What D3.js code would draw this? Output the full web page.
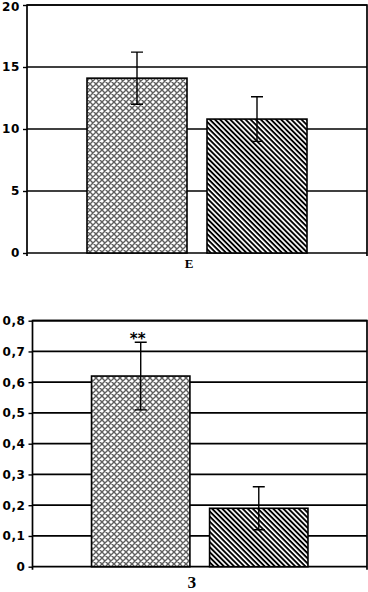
<!DOCTYPE html>
<html>
<head>
<meta charset="utf-8">
<script src="https://cdn.jsdelivr.net/npm/d3@7"></script>
<style>
  body { margin: 0; background: #fff; }
  .tick text { font-family: "DejaVu Sans", Verdana, sans-serif; font-weight: bold; font-size: 12px; letter-spacing: 0.6px; fill: #000; }
</style>
</head>
<body>
<div id="chart"></div>
<script>
// data
const groups = ['control', 'test'];
const topLabel = 'Е';
const topMeans = [14.1, 10.8];
const topErrors = [2.1, 1.8];
const topTicks = [0, 5, 10, 15, 20];
const bottomLabel = 'З';
const bottomMeans = [0.62, 0.19];
const bottomErrors = [0.11, 0.07];
const bottomTicks = [0, 0.1, 0.2, 0.3, 0.4, 0.5, 0.6, 0.7, 0.8];
const bottomStars = ['**', ''];

const width = 368, height = 592;
const svg = d3.select('#chart').append('svg')
    .attr('width', width).attr('height', height);

// fill patterns
const defs = svg.append('defs');
const cross = defs.append('pattern')
    .attr('id', 'cross').attr('patternUnits', 'userSpaceOnUse')
    .attr('width', 6).attr('height', 6);
cross.append('rect').attr('width', 6).attr('height', 6).attr('fill', '#fff');
cross.append('path').attr('d', 'M0,0L6,6M6,0L0,6M-1,5L1,7M5,-1L7,1M-1,1L1,-1M5,7L7,5')
    .attr('stroke', '#5e5e5e').attr('stroke-width', 1.4);
const stripe = defs.append('pattern')
    .attr('id', 'stripe').attr('patternUnits', 'userSpaceOnUse')
    .attr('width', 4).attr('height', 3.6)
    .attr('patternTransform', 'rotate(45)');
stripe.append('rect').attr('width', 4).attr('height', 3.6).attr('fill', '#fff');
stripe.append('rect').attr('width', 4).attr('height', 1.9).attr('fill', '#000');
const fills = ['url(#cross)', 'url(#stripe)'];

function fmtComma(d) {
    return d === 0 ? '0' : d3.format('.1f')(d).replace('.', ',');
}

function drawPanel(opt) {
    const {left, right, top, bottom, ticks, means, errors, label, stars, fmt, labelY, labelSize, labelWeight} = opt;
    const g = svg.append('g');
    const y = d3.scaleLinear().domain([0, d3.max(ticks)]).range([bottom, top]);
    const x = d3.scaleBand().domain(groups).range([left, right])
        .paddingInner(1 / 6).paddingOuter(0.5);

    // gridlines
    g.selectAll('.grid').data(ticks).join('line')
        .attr('x1', left).attr('x2', right)
        .attr('y1', d => y(d)).attr('y2', d => y(d))
        .attr('stroke', '#000').attr('stroke-width', 1.7);

    // frame
    g.append('path')
        .attr('d', `M${left},${bottom}V${top}H${right}V${bottom + 3}M${left},${bottom}v3`)
        .attr('fill', 'none').attr('stroke', '#000').attr('stroke-width', 1.7);

    // y axis
    const yAxis = d3.axisLeft(y).tickValues(ticks).tickFormat(fmt)
        .tickSizeInner(4).tickSizeOuter(0).tickPadding(3);
    const ya = g.append('g').attr('transform', `translate(${left},0)`).call(yAxis);
    ya.select('.domain').remove();
    ya.selectAll('.tick line').attr('stroke', '#000').attr('stroke-width', 1.4);
    // keep the top label inside the page
    ya.selectAll('.tick text').filter(d => y(d) < 8).attr('dy', '0.45em');

    // bars
    g.selectAll('.bar').data(groups).join('rect')
        .attr('x', d => x(d)).attr('width', x.bandwidth())
        .attr('y', (d, i) => y(means[i]))
        .attr('height', (d, i) => y(0) - y(means[i]))
        .attr('fill', (d, i) => fills[i])
        .attr('stroke', '#000').attr('stroke-width', 1.6);

    // error bars
    const cx = d => x(d) + x.bandwidth() / 2;
    g.selectAll('.err').data(groups).join('path')
        .attr('d', (d, i) => {
            const c = cx(d), y0 = y(means[i] - errors[i]), y1 = y(means[i] + errors[i]);
            return `M${c - 6},${y1}H${c + 6}M${c},${y1}V${y0}M${c - 6},${y0}H${c + 6}`;
        })
        .attr('fill', 'none').attr('stroke', '#000').attr('stroke-width', 1.4);

    if (stars) {
        g.selectAll('.star').data(groups).join('text')
            .attr('x', d => cx(d) - 3)
            .attr('y', (d, i) => y(means[i] + errors[i]) + 2)
            .attr('text-anchor', 'middle')
            .style('font-family', '"DejaVu Sans", sans-serif')
            .style('font-weight', 'bold').style('font-size', '15px')
            .text((d, i) => stars[i]);
    }

    g.append('text')
        .attr('x', (left + right) / 2 - 8).attr('y', labelY)
        .attr('text-anchor', 'middle')
        .style('font-family', '"Liberation Serif", "Times New Roman", serif')
        .style('font-weight', labelWeight).style('font-size', labelSize)
        .text(label);
}

drawPanel({left: 27, right: 367, top: 5, bottom: 253, ticks: topTicks,
    means: topMeans, errors: topErrors, label: topLabel, stars: null,
    fmt: d3.format('d'), labelY: 268, labelSize: '13px', labelWeight: 'bold'});

drawPanel({left: 32.5, right: 367, top: 320.7, bottom: 566.7, ticks: bottomTicks,
    means: bottomMeans, errors: bottomErrors, label: bottomLabel, stars: bottomStars,
    fmt: fmtComma, labelY: 588, labelSize: '16px', labelWeight: 'bold'});
</script>
</body>
</html>
